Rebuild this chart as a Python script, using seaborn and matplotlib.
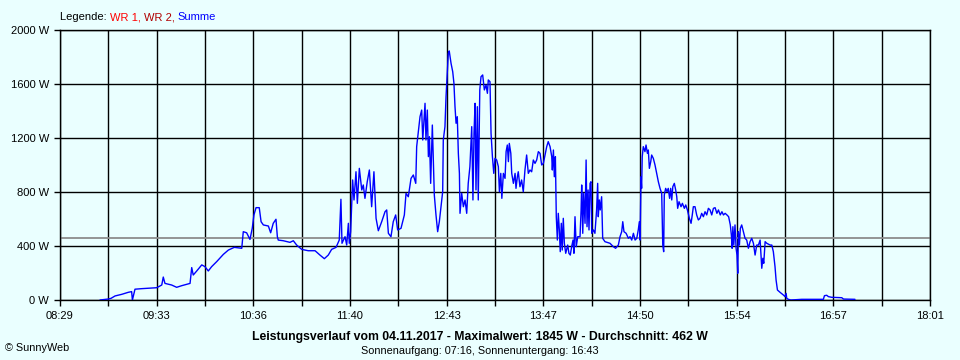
import numpy as np
import pandas as pd
import matplotlib
matplotlib.use("Agg")
import matplotlib.pyplot as plt
import seaborn as sns

# ---- data (time in minutes since midnight, power in W) ----
time_min = [
    535.3, 540.6, 542.5, 545.2, 549.6, 553.9, 556.1, 556.6, 558.3, 562.7,
    572.6, 575.9, 576.9, 578.0, 582.4, 585.7, 589.0, 594.5, 595.6, 596.6,
    598.9, 602.2, 604.3, 606.5, 608.7, 612.0, 616.4, 619.7, 623.6, 628.5,
    629.5, 631.7, 633.9, 635.4, 636.5, 637.9, 640.0, 641.2, 642.7, 646.0,
    647.5, 649.2, 651.0, 651.9, 652.5, 655.8, 660.2, 662.4, 664.6, 667.9,
    672.2, 676.7, 679.9, 682.8, 685.4, 687.6, 690.5, 692.6, 693.7, 694.4,
    696.4, 697.5, 698.6, 699.2, 700.1, 701.4, 702.3, 703.6, 704.5, 705.8,
    707.4, 708.4, 709.5, 711.0, 712.4, 713.9, 715.4, 716.8, 718.3, 720.5,
    722.7, 723.8, 724.9, 726.6, 728.1, 729.7, 731.0, 733.2, 735.4, 736.5,
    738.0, 739.8, 741.3, 742.9, 743.5, 744.6, 745.7, 746.8, 747.5, 748.3,
    749.0, 749.6, 750.5, 751.2, 751.9, 752.7, 753.8, 755.1, 756.2, 757.3,
    758.4, 759.5, 760.6, 761.0, 762.1, 762.8, 763.4, 764.3, 764.9, 766.1,
    767.2, 768.0, 768.7, 769.4, 770.2, 770.9, 771.6, 772.0, 773.1, 774.2,
    775.3, 776.4, 777.4, 778.5, 779.7, 780.5, 781.2, 781.9, 782.5, 783.4,
    784.0, 785.0, 785.8, 786.9, 788.0, 789.1, 790.0, 790.6, 791.7, 792.4,
    793.3, 794.2, 795.0, 796.1, 797.2, 797.9, 798.8, 799.5, 800.5, 801.6,
    802.3, 803.1, 803.8, 804.4, 805.4, 806.0, 807.1, 808.2, 808.8, 809.7,
    810.3, 811.4, 812.5, 813.6, 814.7, 815.8, 816.9, 818.0, 819.1, 820.2,
    821.3, 822.4, 823.5, 824.6, 825.7, 826.8, 827.9, 829.0, 830.0, 831.2,
    832.3, 832.7, 833.4, 834.0, 834.7, 835.3, 836.0, 836.6, 837.3, 837.9,
    838.6, 839.2, 839.9, 840.6, 841.5, 842.8, 843.6, 844.5, 845.4, 846.3,
    846.9, 847.6, 848.4, 849.4, 850.9, 851.6, 852.0, 852.7, 853.3, 854.2,
    854.9, 855.5, 856.2, 856.8, 857.5, 858.1, 858.6, 859.7, 860.7, 861.8,
    862.5, 862.9, 863.6, 864.2, 865.1, 865.8, 867.3, 870.6, 872.8, 874.3,
    876.1, 877.2, 878.3, 879.0, 879.8, 881.2, 882.7, 883.8, 884.9, 886.0,
    887.1, 888.2, 889.2, 889.9, 890.4, 891.0, 891.4, 891.8, 892.5, 893.6,
    894.3, 895.2, 895.8, 896.5, 897.4, 898.0, 899.1, 900.2, 901.3, 902.4,
    903.5, 904.6, 905.3, 905.9, 906.3, 907.2, 908.1, 908.9, 909.8, 910.5,
    911.2, 911.9, 912.9, 913.8, 914.5, 915.1, 916.0, 917.3, 918.2, 919.5,
    920.4, 921.5, 922.8, 923.9, 924.7, 925.4, 926.5, 927.6, 928.7, 929.8,
    930.9, 932.0, 933.1, 934.2, 935.3, 936.4, 937.5, 938.6, 939.7, 940.9,
    941.9, 943.1, 944.2, 945.2, 946.3, 947.5, 948.6, 949.7, 950.4, 950.9,
    951.4, 952.0, 952.8, 953.5, 954.1, 954.6, 955.0, 955.7, 956.3, 957.2,
    958.3, 959.4, 960.5, 961.6, 962.7, 963.8, 964.9, 966.0, 967.1, 968.2,
    969.3, 970.4, 971.1, 971.7, 972.6, 973.7, 975.9, 977.0, 978.0, 979.1,
    979.8, 980.7, 982.4, 984.6, 985.7, 986.4, 986.8, 987.9, 989.5,
    996.7, 1010.9, 1011.6, 1013.1, 1014.2, 1016.4, 1023.0, 1024.1, 1031.7,
]
power_w = [
    0, 7, 12, 30, 42, 57, 62, 0, 80, 84,
    91, 111, 170, 123, 111, 94, 106, 123, 240, 185,
    215, 260, 247, 215, 247, 284, 338, 370, 390, 383,
    506, 498, 449, 531, 630, 684, 684, 580, 556, 548,
    498, 568, 598, 469, 444, 439, 427, 439, 407, 375,
    365, 365, 333, 306, 333, 375, 390, 444, 746, 420,
    469, 407, 568, 420, 506, 889, 741, 950, 716, 975,
    815, 852, 753, 876, 963, 691, 950, 605, 513, 580,
    654, 667, 494, 469, 580, 630, 519, 531, 630, 790,
    765, 901, 926, 864, 1136, 1247, 1358, 1407, 1185, 1333,
    1457, 1185, 1407, 1062, 1210, 864, 1296, 778, 630, 506,
    580, 691, 802, 1185, 1284, 1506, 1630, 1827, 1845, 1753,
    1691, 1605, 1432, 1309, 1358, 1086, 938, 642, 790, 691,
    741, 642, 864, 988, 1284, 741, 1235, 1457, 815, 1432,
    741, 1556, 1654, 1667, 1556, 1593, 1531, 1630, 1617, 1235,
    1062, 938, 1049, 1037, 988, 802, 938, 753, 938, 901,
    1099, 1148, 1025, 1160, 1086, 938, 864, 938, 827, 913,
    950, 839, 889, 802, 963, 1074, 938, 963, 950, 1037,
    1012, 1037, 1099, 1086, 1000, 1012, 1074, 1136, 1173, 1136,
    1062, 963, 1111, 913, 1062, 617, 444, 642, 519, 358,
    568, 370, 605, 420, 346, 407, 346, 333, 395, 444,
    346, 617, 395, 469, 469, 667, 852, 494, 790, 568,
    1037, 543, 815, 519, 864, 876, 494, 519, 494, 667,
    864, 617, 741, 667, 765, 457, 432, 420, 395, 383,
    407, 469, 506, 580, 506, 494, 457, 469, 444, 494,
    444, 457, 519, 580, 444, 913, 827, 1062, 1136, 1099,
    1148, 1086, 1111, 975, 1025, 1074, 1049, 1000, 938, 876,
    827, 790, 407, 358, 778, 827, 802, 827, 753, 827,
    741, 839, 864, 815, 765, 679, 728, 691, 716, 679,
    704, 667, 605, 568, 630, 691, 691, 630, 593, 605,
    642, 617, 654, 630, 679, 667, 630, 679, 684, 642,
    667, 630, 654, 630, 642, 630, 617, 556, 481, 383,
    543, 407, 556, 383, 333, 198, 506, 407, 531, 556,
    506, 457, 444, 383, 432, 457, 420, 333, 407, 407,
    444, 235, 309, 272, 432, 420, 407, 407, 358, 247,
    148, 74, 57, 37, 25, 49, 12, 5, 0,
    5, 5, 32, 35, 25, 20, 17, 7, 5,
]
segment = [0] * 369 + [1] * 9

x_tick_labels = ["08:29", "09:33", "10:36", "11:40", "12:43",
                 "13:47", "14:50", "15:54", "16:57", "18:01"]
y_ticks = [0, 400, 800, 1200, 1600, 2000]
average_w = 462
max_w = 1845
date_str = "04.11.2017"
sunrise, sunset = "07:16", "16:43"

n = min(len(time_min), len(power_w))
df = pd.DataFrame({"t": time_min[:n], "w": power_w[:n], "seg": segment[:n]})

# ---- style ----
BG = "#EAFFFF"
sns.set_style("ticks")
plt.rcParams["font.family"] = ["Liberation Sans", "DejaVu Sans"]

fig = plt.figure(figsize=(9.6, 3.6), dpi=100, facecolor=BG)
ax = fig.add_axes([60 / 960, 1 - 300 / 360, 870 / 960, 270 / 360])
ax.set_facecolor(BG)

t0, t1 = 8 * 60 + 29, 18 * 60 + 1
grid_x = np.linspace(t0, t1, 19)
for gx in grid_x:
    ax.axvline(gx, color="black", lw=1.0, zorder=1)
for gy in y_ticks:
    ax.axhline(gy, color="black", lw=1.0, zorder=1)

ax.axhline(average_w, color="#8C8C8C", lw=1.3, zorder=2)

sns.lineplot(data=df, x="t", y="w", units="seg", estimator=None, sort=False,
             color="#0000FF", lw=1.0, ax=ax, zorder=3)

ax.set_xlim(t0, t1)
ax.set_ylim(0, 2000)
ax.set_xticks(grid_x)
labels = []
for i in range(19):
    labels.append(x_tick_labels[i // 2] if i % 2 == 0 else "")
ax.set_xticklabels(labels)
ax.set_yticks(y_ticks)
ax.set_yticklabels([f"{v} W" for v in y_ticks])
ax.set_xlabel("")
ax.set_ylabel("")
ax.tick_params(axis="both", direction="out", length=4, width=1.0,
               color="black", labelsize=8, labelcolor="black")
ax.tick_params(axis="x", pad=4)
ax.tick_params(axis="y", pad=4)
for s in ax.spines.values():
    s.set_visible(True)
    s.set_color("black")
    s.set_linewidth(1.0)

# legend text
t_leg = fig.text(60 / 960, 1 - 17 / 360, "Legende: ", color="black",
                 fontsize=8, va="center", ha="left")
t_w1 = ax.annotate("WR 1, ", xy=(1, 0), xycoords=t_leg, va="bottom",
                   ha="left", color="#FF0000", fontsize=8,
                   annotation_clip=False)
t_w2 = ax.annotate("WR 2, ", xy=(1, 0), xycoords=t_w1, va="bottom",
                   ha="left", color="#B00000", fontsize=8,
                   annotation_clip=False)
ax.annotate("Summe", xy=(1, 0), xycoords=t_w2, va="bottom", ha="left",
            color="#0000FF", fontsize=8, annotation_clip=False)

fig.text(480 / 960, 1 - 337 / 360,
         f"Leistungsverlauf vom {date_str} - Maximalwert: {max_w} W - "
         f"Durchschnitt: {average_w} W",
         ha="center", va="center", fontsize=8.8, fontweight="bold",
         color="black")
fig.text(480 / 960, 1 - 351 / 360,
         f"Sonnenaufgang: {sunrise}, Sonnenuntergang: {sunset}",
         ha="center", va="center", fontsize=7.8, color="black")
fig.text(5 / 960, 1 - 348 / 360, "\u00a9 SunnyWeb", ha="left", va="center",
         fontsize=7.8, color="black")

fig.savefig("out.png", dpi=100, facecolor=BG)
